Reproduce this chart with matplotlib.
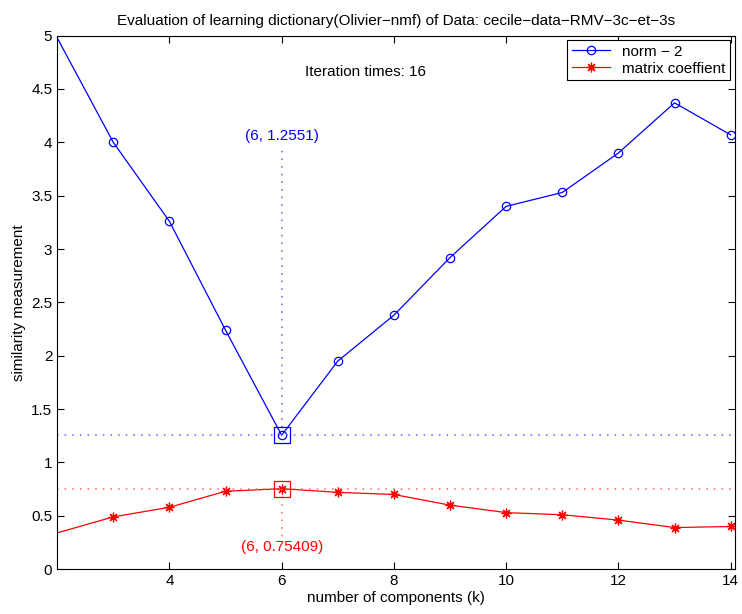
import matplotlib
matplotlib.use("Agg")
import matplotlib.pyplot as plt

plt.rcParams['font.family'] = ['Liberation Sans', 'DejaVu Sans']

k_values = [2, 3, 4, 5, 6, 7, 8, 9, 10, 11, 12, 13, 14]
norm2 = [4.98, 4.00, 3.26, 2.24, 1.2551, 1.95, 2.38, 2.92, 3.40, 3.53, 3.90, 4.37, 4.07]
matrix_coef = [0.34, 0.49, 0.58, 0.73, 0.75409, 0.72, 0.70, 0.60, 0.53, 0.51, 0.46, 0.39, 0.40]

best_k = 6
best_norm = 1.2551
best_coef = 0.75409
iterations = 16

title = "Evaluation of learning dictionary(Olivier\u2212nmf) of Data: cecile\u2212data\u2212RMV\u22123c\u2212et\u22123s"

fig = plt.figure(figsize=(7.42, 6.14), dpi=100)
ax = fig.add_axes([0.077, 0.073, 0.913, 0.869])

dots = (0, (1, 4))
asterisk = (8, 2, 0)

ax.plot(k_values, norm2, color='blue', lw=0.9, marker='o', ms=6, mfc='none',
        mew=0.9, markevery=slice(1, None), label='norm \u2212 2')
ax.plot(k_values, matrix_coef, color='red', lw=0.9, marker=asterisk, ms=7,
        mew=0.9, markevery=slice(1, None), label='matrix coeffient')

# minimum of norm-2
ax.axhline(best_norm, color='#6060ff', ls=dots, lw=1.1)
ax.plot([best_k, best_k], [best_norm, 3.95], color='#6060ff', ls=dots, lw=1.1)
ax.plot(best_k, best_norm, marker='s', ms=11, mfc='none', mec='blue', mew=0.9)
ax.text(best_k, 4.06, "(%d, %s)" % (best_k, best_norm), color='blue',
        ha='center', va='center', fontsize=11)

# maximum of matrix coefficient
ax.axhline(best_coef, color='#ff6060', ls=dots, lw=1.1)
ax.plot([best_k, best_k], [best_coef, 0.3], color='#ff6060', ls=dots, lw=1.1)
ax.plot(best_k, best_coef, marker='s', ms=11, mfc='none', mec='red', mew=0.9)
ax.text(best_k, 0.21, "(%d, %s)" % (best_k, best_coef), color='red',
        ha='center', va='center', fontsize=11)

ax.text(7.5, 4.66, "Iteration times: %d" % iterations, ha='center', va='center',
        fontsize=11)

ax.set_xlim(2, 14.07)
ax.set_ylim(0, 5)
ax.set_xticks([4, 6, 8, 10, 12, 14])
ax.set_yticks([0, 0.5, 1, 1.5, 2, 2.5, 3, 3.5, 4, 4.5, 5])
ax.set_yticklabels(['0', '0.5', '1', '1.5', '2', '2.5', '3', '3.5', '4', '4.5', '5'])
ax.tick_params(direction='in', top=True, right=True, labelsize=11, length=5)
ax.set_xlabel("number of components (k)", fontsize=11, labelpad=2)
ax.set_ylabel("similarity measurement", fontsize=11)
ax.set_title(title, fontsize=11, pad=8)

leg = ax.legend(loc='upper right', fontsize=11, fancybox=False, framealpha=1,
                edgecolor='black', handlelength=2.5, borderaxespad=0.3,
                borderpad=0.3, labelspacing=0.2)
leg.get_frame().set_linewidth(0.8)

fig.savefig("out.png", dpi=100)
